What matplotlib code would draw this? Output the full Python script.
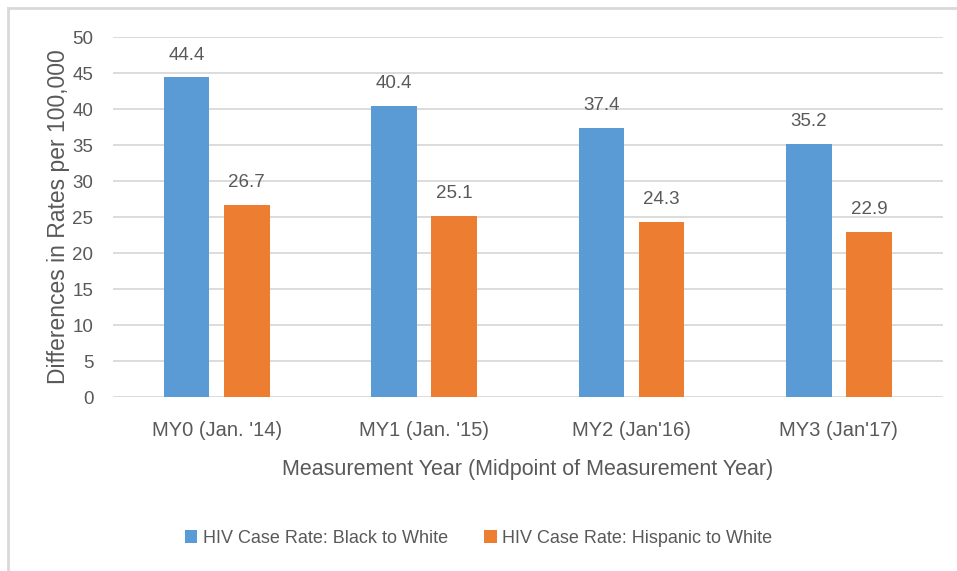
import matplotlib
matplotlib.use("Agg")
import matplotlib.pyplot as plt
import numpy as np
from matplotlib.lines import Line2D

categories = ["MY0 (Jan. '14)", "MY1 (Jan. '15)", "MY2 (Jan'16)", "MY3 (Jan'17)"]
black_to_white = [44.4, 40.4, 37.4, 35.2]
hispanic_to_white = [26.7, 25.1, 24.3, 22.9]
series_names = ["HIV Case Rate: Black to White", "HIV Case Rate: Hispanic to White"]

plt.rcParams['font.family'] = ['Liberation Sans', 'DejaVu Sans']
txt = "#595959"
grid = "#d9d9d9"
blue = "#5B9BD5"
orange = "#ED7D31"

fig = plt.figure(figsize=(9.57, 5.71), dpi=100)
ax = fig.add_axes([0.118, 0.3047, 0.867, 0.6303])

x = np.arange(len(categories))
w = 0.22
off = 0.145
b1 = ax.bar(x - off, black_to_white, w, color=blue, label=series_names[0], zorder=3)
b2 = ax.bar(x + off, hispanic_to_white, w, color=orange, label=series_names[1], zorder=3)
for bars in (b1, b2):
    ax.bar_label(bars, fmt="%.1f", padding=10, fontsize=13.5, color=txt)

ax.set_xlim(-0.5, len(categories) - 0.5)
ax.set_ylim(0, 50)
ax.set_yticks(range(0, 51, 5))
ax.yaxis.grid(True, color=grid, linewidth=1.3, zorder=0)
for s in ax.spines.values():
    s.set_visible(False)
ax.tick_params(length=0, labelsize=13.5, colors=txt)
ax.tick_params(axis="y", pad=14)
ax.tick_params(axis="x", pad=17, labelsize=14.5)
ax.set_xticks(x)
ax.set_xticklabels(categories)
ax.set_xlabel("Measurement Year (Midpoint of Measurement Year)", fontsize=15.5, color=txt, labelpad=14)
ax.set_ylabel("Differences in Rates per 100,000", fontsize=16.5, color=txt, labelpad=2)

fig.legend(loc="center", bbox_to_anchor=(0.5, 0.057), ncol=2, frameon=False,
           fontsize=13, labelcolor=txt, handlelength=0.7, handleheight=0.7,
           handletextpad=0.3, columnspacing=2.0)

# outer chart frame (top and left edges visible in the crop)
fig.add_artist(Line2D([8 / 957, 1], [1 - 8 / 571] * 2, transform=fig.transFigure, color=grid, linewidth=2))
fig.add_artist(Line2D([8 / 957] * 2, [0, 1 - 8 / 571], transform=fig.transFigure, color=grid, linewidth=2))

fig.savefig("out.png", dpi=100)
